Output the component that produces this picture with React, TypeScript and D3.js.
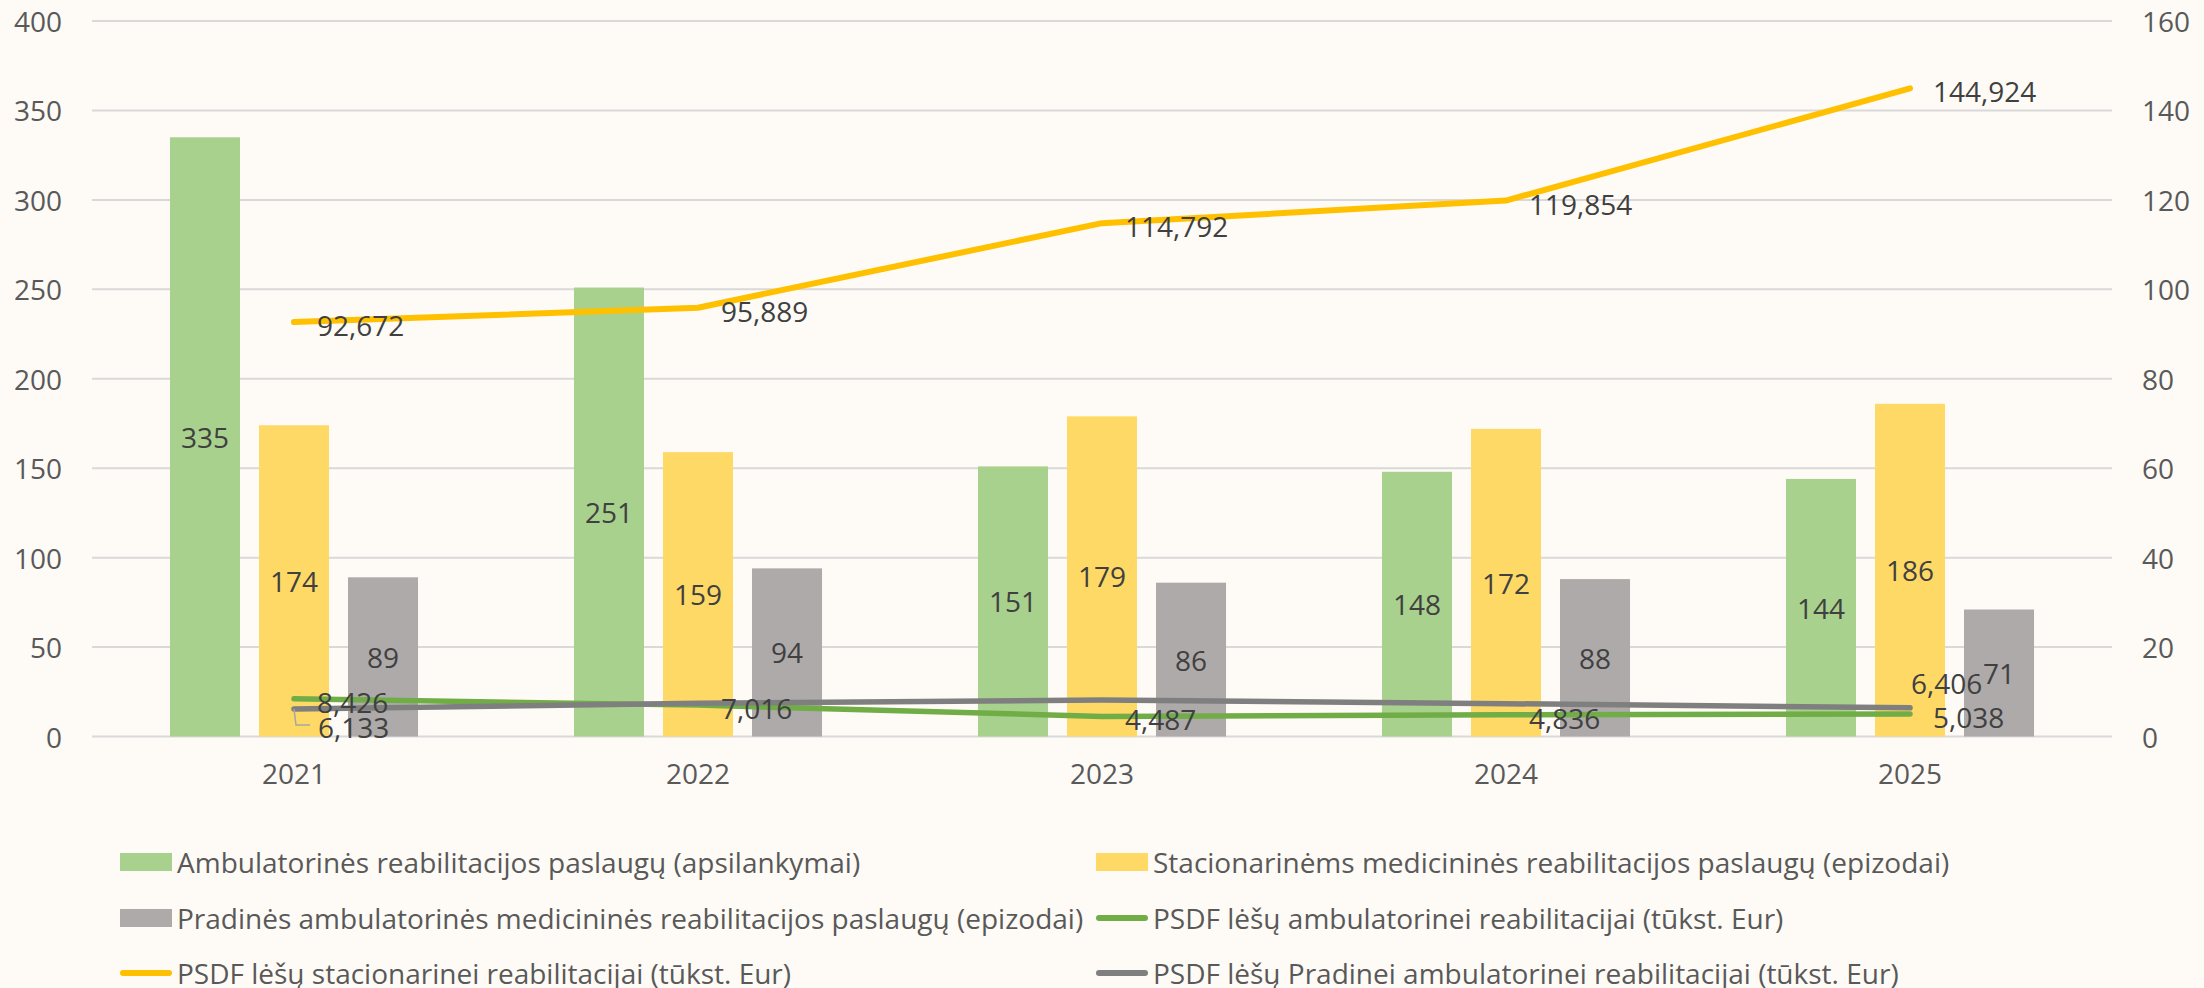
import React from "react";
import * as d3 from "d3";

// ---------- data ----------
const categories = ["2021", "2022", "2023", "2024", "2025"];
const ambulatoryVisits = [335, 251, 151, 148, 144];
const inpatientEpisodes = [174, 159, 179, 172, 186];
const primaryEpisodes = [89, 94, 86, 88, 71];
const ambulatoryFunds = [8.426, 7.016, 4.487, 4.836, 5.038];
const inpatientFunds = [92.672, 95.889, 114.792, 119.854, 144.924];
const primaryFunds = [6.133, 7.42, 8.16, 7.34, 6.406];
const leftTicks = [0, 50, 100, 150, 200, 250, 300, 350, 400];
const rightTicks = [0, 20, 40, 60, 80, 100, 120, 140, 160];

const legendLabels = [
  "Ambulatorinės reabilitacijos paslaugų (apsilankymai)",
  "Stacionarinėms medicininės reabilitacijos paslaugų (epizodai)",
  "Pradinės ambulatorinės medicininės reabilitacijos paslaugų (epizodai)",
  "PSDF lėšų ambulatorinei reabilitacijai (tūkst. Eur)",
  "PSDF lėšų stacionarinei reabilitacijai (tūkst. Eur)",
  "PSDF lėšų Pradinei ambulatorinei reabilitacijai (tūkst. Eur)",
];

// ---------- styles ----------
const W = 2204;
const H = 988;
const BG = "#FEFBF6";
const FONT = "'Open Sans', sans-serif";
const FS = 28;
const TICK_COLOR = "#595959";
const LABEL_COLOR = "#404040";
const GRID = "#D9D9D9";
const BAR_COLORS = ["#A9D18E", "#FFD966", "#AEAAAA"];
const LINE_COLORS = { amb: "#70AD47", inp: "#FFC000", prim: "#7F7F7F" };

const plot = { left: 92, right: 2112, top: 21, bottom: 736.5 };

function fmt(v: number) {
  return v.toFixed(3).replace(".", ",");
}

export default function App() {
  const x = d3.scaleBand<string>().domain(categories).range([plot.left, plot.right]);
  const x1 = d3
    .scaleBand<number>()
    .domain([0, 1, 2])
    .range([0, x.bandwidth()])
    .paddingInner(0.2135)
    .paddingOuter(0.876);
  const yL = d3.scaleLinear().domain([0, 400]).range([plot.bottom, plot.top]);
  const yR = d3.scaleLinear().domain([0, 160]).range([plot.bottom, plot.top]);
  const cx = (c: string) => (x(c) as number) + x.bandwidth() / 2;

  const barSeries = [ambulatoryVisits, inpatientEpisodes, primaryEpisodes];

  const lineGen = (vals: number[]) =>
    d3
      .line<number>()
      .x((_, i) => cx(categories[i]))
      .y((v) => yR(v))(vals) as string;

  const lineSeries = [
    { vals: ambulatoryFunds, color: LINE_COLORS.amb, width: 5.5, show: [true, true, true, true, true], key: "amb" },
    { vals: inpatientFunds, color: LINE_COLORS.inp, width: 6, show: [true, true, true, true, true], key: "inp" },
    { vals: primaryFunds, color: LINE_COLORS.prim, width: 5.5, show: [true, false, false, false, true], key: "prim" },
  ];

  const legendCols = [120, 1096];
  const legendRows = [862, 918, 973];

  return (
    <div style={{ position: "fixed", left: 0, top: 0 }}>
      <svg width={W} height={H} style={{ display: "block" }} fontFamily={FONT}>
        <rect x={0} y={0} width={W} height={H} fill={BG} />
        {/* gridlines */}
        {leftTicks.map((t) => (
          <line key={"g" + t} x1={plot.left} x2={plot.right} y1={yL(t)} y2={yL(t)} stroke={GRID} strokeWidth={2} />
        ))}
        {/* left ticks */}
        {leftTicks.map((t) => (
          <text key={"l" + t} x={62} y={yL(t)} textAnchor="end" dominantBaseline="central" fontSize={FS} fill={TICK_COLOR}>
            {t}
          </text>
        ))}
        {/* right ticks */}
        {rightTicks.map((t) => (
          <text key={"r" + t} x={2142} y={yR(t)} textAnchor="start" dominantBaseline="central" fontSize={FS} fill={TICK_COLOR}>
            {t}
          </text>
        ))}
        {/* x labels */}
        {categories.map((c) => (
          <text key={"x" + c} x={cx(c)} y={773} textAnchor="middle" dominantBaseline="central" fontSize={FS} fill={TICK_COLOR}>
            {c}
          </text>
        ))}
        {/* bars */}
        {barSeries.map((vals, s) =>
          vals.map((v, i) => {
            const bx = (x(categories[i]) as number) + (x1(s) as number);
            return (
              <rect key={`b${s}-${i}`} x={bx} y={yL(v)} width={x1.bandwidth()} height={yL(0) - yL(v)} fill={BAR_COLORS[s]} />
            );
          })
        )}
        {/* bar labels */}
        {barSeries.map((vals, s) =>
          vals.map((v, i) => {
            const bx = (x(categories[i]) as number) + (x1(s) as number) + x1.bandwidth() / 2;
            return (
              <text
                key={`bl${s}-${i}`}
                x={bx}
                y={(yL(v) + yL(0)) / 2}
                textAnchor="middle"
                dominantBaseline="central"
                fontSize={FS}
                fill={LABEL_COLOR}
              >
                {v}
              </text>
            );
          })
        )}
        {/* lines */}
        {lineSeries.map((ls) => (
          <path
            key={"p" + ls.key}
            d={lineGen(ls.vals)}
            fill="none"
            stroke={ls.color}
            strokeWidth={ls.width}
            strokeLinecap="round"
            strokeLinejoin="round"
          />
        ))}
        {/* line labels */}
        {lineSeries.map((ls) =>
          ls.vals.map((v, i) => {
            if (!ls.show[i]) return null;
            const px = cx(categories[i]);
            const py = yR(v);
            if (ls.key === "prim" && i === 0) {
              return (
                <g key={`ll${ls.key}-${i}`}>
                  <polyline
                    points={`${px},${py} ${px + 2},${py + 16} ${px + 16},${py + 16}`}
                    fill="none"
                    stroke="#A6A6A6"
                    strokeWidth={1.5}
                  />
                  <text x={px + 24} y={py + 18} dominantBaseline="central" fontSize={FS} fill={LABEL_COLOR}>
                    {fmt(v)}
                  </text>
                </g>
              );
            }
            if (ls.key === "prim" && i === 4) {
              return (
                <text key={`ll${ls.key}-${i}`} x={px + 1} y={py - 25} dominantBaseline="central" fontSize={FS} fill={LABEL_COLOR}>
                  {fmt(v)}
                </text>
              );
            }
            return (
              <text key={`ll${ls.key}-${i}`} x={px + 23} y={py + 3} dominantBaseline="central" fontSize={FS} fill={LABEL_COLOR}>
                {fmt(v)}
              </text>
            );
          })
        )}
        {/* legend */}
        {legendLabels.map((lab, k) => {
          const col = k % 2;
          const row = Math.floor(k / 2);
          const lx = legendCols[col];
          const ly = legendRows[row];
          let marker;
          if (k < 3) {
            marker = <rect x={lx} y={ly - 9} width={52} height={18} fill={BAR_COLORS[k]} />;
          } else {
            const colr = k === 3 ? LINE_COLORS.amb : k === 4 ? LINE_COLORS.inp : LINE_COLORS.prim;
            marker = (
              <line x1={lx + 3} x2={lx + 49} y1={ly} y2={ly} stroke={colr} strokeWidth={6} strokeLinecap="round" />
            );
          }
          return (
            <g key={"lg" + k}>
              {marker}
              <text x={lx + 57} y={ly} dominantBaseline="central" fontSize={FS} fill={TICK_COLOR}>
                {lab}
              </text>
            </g>
          );
        })}
      </svg>
    </div>
  );
}
